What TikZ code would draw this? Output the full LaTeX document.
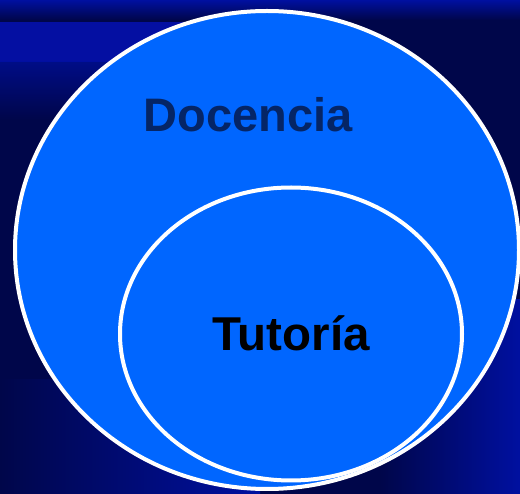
\documentclass[tikz,border=0pt]{standalone}
\usepackage{fontspec}
\setmainfont{Liberation Sans}
\usetikzlibrary{shapes.geometric}
\definecolor{bgdark}{HTML}{00064A}
\definecolor{bgmid}{HTML}{0010A0}
\definecolor{bgbright}{HTML}{0612B8}
\definecolor{bubble}{HTML}{0066FF}
\definecolor{navytext}{HTML}{052566}
\tikzset{
  bubblestyle/.style={fill=bubble, draw=white, line width=4pt},
}
\begin{document}
\begin{tikzpicture}[x=1pt,y=-1pt]
\useasboundingbox (0,0) rectangle (520,494);
% background
\fill[bgdark] (0,0) rectangle (520,494);
\shade[top color=bgmid, bottom color=bgdark] (0,0) rectangle (520,20);
\fill[bgbright, opacity=0.8] (0,22) rectangle (300,62);
\shade[top color=bgmid, bottom color=bgdark, opacity=0.7] (0,62) rectangle (260,120);
\shade[left color=bgdark, right color=bgmid] (0,380) rectangle (260,494);
\shade[left color=bgdark, right color=bgmid] (380,300) rectangle (520,494);
% circles
\node[bubblestyle, ellipse, minimum width=504pt, minimum height=478pt, inner sep=0pt] (docencia) at (267,250) {};
\node[bubblestyle, ellipse, minimum width=342pt, minimum height=293pt, inner sep=0pt] (tutoria) at (291,334) {};
\node[font=\fontsize{47}{50}\selectfont\bfseries, text=navytext] (docl) at (248,115) {Docencia};
\node[font=\fontsize{47.5}{52}\selectfont\bfseries, text=black] (tutl) at (291,333) {Tutoría};
\end{tikzpicture}
\end{document}
